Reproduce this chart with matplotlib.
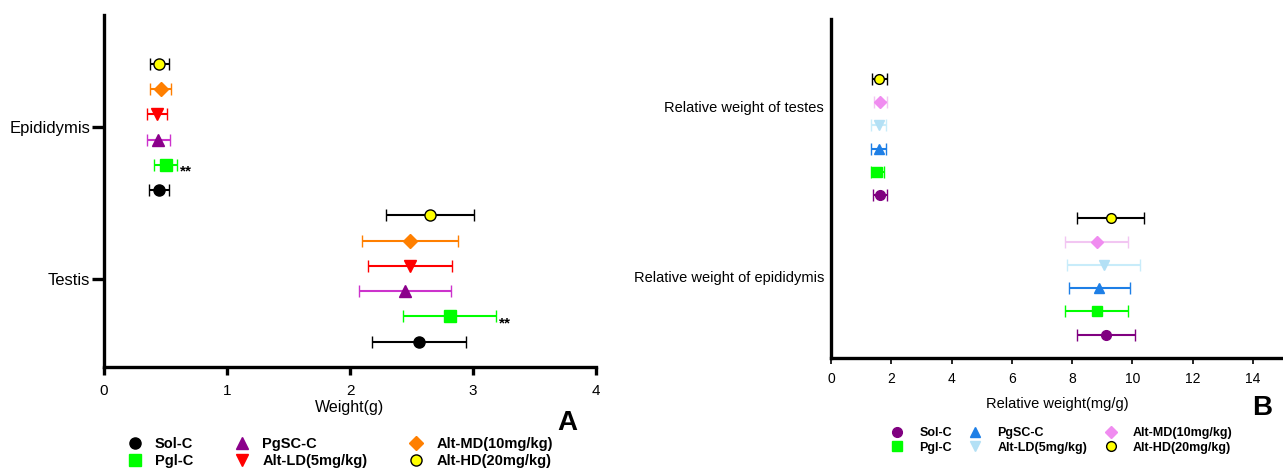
import numpy as np
import matplotlib.pyplot as plt
from matplotlib.lines import Line2D

plt.rcParams['font.family'] = ['Liberation Sans', 'DejaVu Sans']

groups = ['Sol-C', 'Pgl-C', 'PgSC-C', 'Alt-LD(5mg/kg)', 'Alt-MD(10mg/kg)', 'Alt-HD(20mg/kg)']
markers = ['o', 's', '^', 'v', 'D', 'o']

# panel A: absolute weight (g), rows bottom->top within each organ
testis_mean = [2.56, 2.81, 2.45, 2.49, 2.49, 2.65]
testis_err = [0.385, 0.38, 0.373, 0.34, 0.39, 0.355]
epid_mean = [0.447, 0.50, 0.44, 0.43, 0.46, 0.45]
epid_err = [0.08, 0.096, 0.093, 0.083, 0.088, 0.08]
a_face = ['black', '#00ff00', '#8b008b', '#ff0000', '#ff7f00', '#ffff00']
a_bar = ['black', '#00ff00', '#cc33cc', '#ff0000', '#ff7f00', 'black']
a_cats = ['Testis', 'Epididymis']

# panel B: relative weight (mg/g)
rel_epid_mean = [9.14, 8.82, 8.91, 9.05, 8.82, 9.28]
rel_epid_err = [0.96, 1.04, 1.0, 1.21, 1.04, 1.12]
rel_test_mean = [1.62, 1.54, 1.58, 1.58, 1.64, 1.60]
rel_test_err = [0.24, 0.22, 0.26, 0.24, 0.22, 0.25]
b_face = ['#800080', '#00ff00', '#1e7fe6', '#b3e0f5', '#f08cf0', '#ffff00']
b_bar = ['#800080', '#00ff00', '#1e7fe6', '#c8ecfa', '#f2c6f2', 'black']
b_cats = ['Relative weight of epididymis', 'Relative weight of testes']

fig = plt.figure(figsize=(12.83, 4.69), dpi=100)
axA = fig.add_axes([0.0811, 0.2175, 0.3834, 0.7505])
axB = fig.add_axes([0.6477, 0.2367, 0.3523, 0.7228])


def draw(ax, means_lo, errs_lo, means_hi, errs_hi, face, bar, ms):
    for i in range(6):
        for base, m, e in ((0, means_lo, errs_lo), (6, means_hi, errs_hi)):
            mec = 'black' if i == 5 else face[i]
            ax.errorbar(m[i], base + i, xerr=e[i], fmt=markers[i], color=bar[i],
                        mfc=face[i], mec=mec, ms=ms if markers[i] != 'D' else ms - 1,
                        mew=1.0, elinewidth=1.5, capsize=4.5, capthick=1.5, zorder=3)


draw(axA, testis_mean, testis_err, epid_mean, epid_err, a_face, a_bar, 8)
draw(axB, rel_epid_mean, rel_epid_err, rel_test_mean, rel_test_err, b_face, b_bar, 7)

# significance marks
for m, e, row in ((testis_mean[1], testis_err[1], 1), (epid_mean[1], epid_err[1], 7)):
    axA.annotate('**', (m + e, row), xytext=(2, -5), textcoords='offset points',
                 fontsize=11, fontweight='bold', va='center', ha='left')

for ax in (axA, axB):
    for s in ('top', 'right'):
        ax.spines[s].set_visible(False)
    for s in ('left', 'bottom'):
        ax.spines[s].set_linewidth(2.4)

axA.set_xlim(0, 4)
axA.set_ylim(-1, 12.94)
axA.set_xticks([0, 1, 2, 3, 4])
axA.set_yticks([2.5, 8.5])
axA.set_yticklabels(a_cats)
axA.tick_params(axis='y', length=9, width=2.4, labelsize=12, pad=1)
axA.tick_params(axis='x', length=6, width=2.4, labelsize=11, pad=6)
axA.set_xlabel('Weight(g)', fontsize=11.5, labelpad=2)

axB.set_xlim(0, 15)
axB.set_ylim(-1, 13.57)
axB.set_xticks(np.arange(0, 15, 2))
axB.set_yticks([2.5, 9.8])
axB.set_yticklabels(b_cats)
axB.tick_params(axis='y', length=0, labelsize=10.5, pad=5)
axB.tick_params(axis='x', length=4, width=1.2, labelsize=10, pad=6)
axB.set_xlabel('Relative weight(mg/g)', fontsize=10.5, labelpad=8)

fig.text(567 / 1283, 1 - 423 / 469, 'A', fontsize=20, fontweight='bold', ha='center', va='center')
fig.text(1262 / 1283, 1 - 408 / 469, 'B', fontsize=20, fontweight='bold', ha='center', va='center')


def handles(face, ms):
    hs = []
    for i in range(6):
        mec = 'black' if i == 5 else face[i]
        hs.append(Line2D([], [], ls='none', marker=markers[i], mfc=face[i], mec=mec,
                         ms=ms if markers[i] != 'D' else ms - 1))
    return hs


fig.legend(handles(a_face, 8), groups, ncol=3, loc='center', bbox_to_anchor=(0.2646, 0.035),
           frameon=False, prop={'weight': 'bold', 'size': 10.5}, handlelength=1.2,
           handletextpad=0.77, columnspacing=2.75, labelspacing=0.15, borderaxespad=0,
           borderpad=0)
fig.legend(handles(b_face, 7), groups, ncol=3, loc='center', bbox_to_anchor=(0.8275, 0.061),
           frameon=False, prop={'weight': 'bold', 'size': 9}, handlelength=1.0,
           handletextpad=1.3, columnspacing=1.35, labelspacing=0.2, borderaxespad=0,
           borderpad=0)

fig.savefig('out.png', dpi=100)
